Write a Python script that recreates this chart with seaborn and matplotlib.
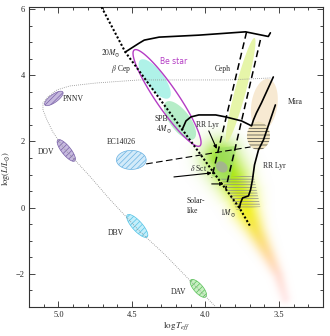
import numpy as np
import matplotlib
matplotlib.use("Agg")
import matplotlib.pyplot as plt
from matplotlib.patches import Polygon
from matplotlib.colors import to_rgb
from matplotlib.ticker import MultipleLocator, FormatStrFormatter
import seaborn as sns

# ---------------- data: (log Teff, log L/Lsun) ----------------
zams_T = [4.72, 4.545, 4.126, 3.768, 3.693]
zams_L = [6.17, 4.70, 2.17, -0.01, -0.58]

track20_T = [4.545, 4.450, 4.416, 4.315, 4.045, 3.727, 3.572, 3.558]
track20_L = [4.70, 4.97, 5.06, 5.15, 5.21, 5.31, 5.17, 5.28]

track4_T = [4.159, 4.132, 4.099, 4.045, 3.930, 3.862, 3.754, 3.686, 3.673, 3.653, 3.619, 3.585, 3.538]
track4_L = [2.347, 2.62, 2.74, 2.80, 2.80, 2.74, 2.62, 2.47, 2.65, 2.86, 3.16, 3.49, 3.947]

track1_T = [3.768, 3.761, 3.747, 3.707, 3.693, 3.680, 3.666, 3.639, 3.605, 3.524]
track1_L = [-0.01, 0.143, 0.294, 0.355, 0.536, 0.838, 1.291, 1.743, 2.045, 3.102]

wd_T = [3.558, 3.842, 4.450, 4.741, 4.923, 5.011, 5.072, 5.105, 5.105, 5.078,
        5.038, 4.970, 4.876, 4.788, 4.653, 4.450, 4.281, 3.930]
wd_L = [3.917, 3.857, 3.857, 3.766, 3.675, 3.555, 3.343, 3.162, 2.951, 2.649,
        2.287, 1.834, 1.381, 0.958, 0.264, -0.702, -1.396, -2.996]

blue_edge_T = [3.720, 3.957]
blue_edge_L = [5.306, 0.898]
red_edge_T = [3.626, 3.862]
red_edge_L = [5.064, 0.566]
hb_T = [4.403, 3.693]
hb_L = [1.321, 1.834]

# region axes (two ends of the long axis)
pnnv_ends = [(5.092, 3.102), (4.970, 3.494)]
dov_ends = [(5.004, 2.045), (4.889, 1.411)]
ec_ends = [(4.605, 1.442), (4.403, 1.442)]
dbv_ends = [(4.531, -0.219), (4.396, -0.883)]
dav_ends = [(4.099, -2.181), (3.997, -2.694)]
bcep_ends = [(4.443, 4.46), (4.247, 3.313)]
spb_ends = [(4.268, 3.19), (4.078, 2.075)]
be_ends = [(4.484, 4.762), (4.038, 1.864)]
ceph_ends = [(3.666, 5.125), (3.855, 1.985)]
mira_ends = [(3.572, 3.887), (3.626, 2.317)]
rrl_ends = [(3.639, 2.589), (3.639, 1.743)]
gdor_blob_ends = [(3.923, 1.351), (3.855, 1.109)]

dsct_box_T = [3.916, 3.788, 3.835, 3.957]
dsct_box_L = [1.804, 1.864, 0.717, 0.959]
gdor_T = [3.896, 3.673, 3.626, 3.788]
gdor_L = [0.898, 0.989, 0.023, -0.068]

solar_T = [3.896, 3.815, 3.754, 3.714, 3.653, 3.572, 3.504, 3.457]
solar_L = [1.502, 0.898, 0.385, -0.158, -0.732, -1.426, -2.030, -2.725]

labels = [r"$20M_{\odot}$", r"$\beta$ Cep", "Ceph", "Mira", "RR Lyr", "RR Lyr",
          "SPB", r"$4M_{\odot}$", "PNNV", "DOV", "EC14026", "DBV", "DAV",
          r"$\delta$ Sct", r"$1M_{\odot}$"]
label_T = [4.646, 4.572, 3.882, 3.389, 3.984, 3.531, 4.301, 4.281, 4.896, 5.085,
           4.572, 4.612, 4.186, 4.045, 3.849]
label_L = [4.672, 4.189, 4.189, 3.19, 2.498, 1.26, 2.679, 2.377, 3.283, 1.683,
           1.985, -0.762, -2.543, 1.200, -0.158]

arrow_tail = [(3.977, 2.317), (4.214, 0.928), (3.957, 0.717)]
arrow_head = [(3.923, 1.774), (3.957, 1.049), (3.876, 0.717)]

# ---------------- style ----------------
sns.set_style("ticks")
plt.rcParams.update({
    "font.family": "serif",
    "font.serif": ["Liberation Serif", "DejaVu Serif"],
    "mathtext.fontset": "stix",
    "hatch.linewidth": 0.5,
    "axes.linewidth": 0.8,
})

fig = plt.figure(figsize=(3.3, 3.36), dpi=100)
ax = fig.add_axes([29 / 330, 29 / 336, 294 / 330, 300 / 336])
ax.set_xlim(5.2, 3.2)
ax.set_ylim(-3.0, 6.06)


def ellipse_xy(ends, width_px, n=120):
    P = ax.transData.transform(np.array(ends, dtype=float))
    c = P.mean(axis=0)
    d = P[1] - P[0]
    ln = np.hypot(*d)
    u = d / ln
    v = np.array([-u[1], u[0]])
    t = np.linspace(0, 2 * np.pi, n)
    pts = c + np.outer(np.cos(t) * ln / 2, u) + np.outer(np.sin(t) * width_px / 2, v)
    return ax.transData.inverted().transform(pts)


def add_ellipse(ends, width_px, **kw):
    ax.add_patch(Polygon(ellipse_xy(ends, width_px), closed=True, **kw))


def soft_band(T, L, widths, colors, alphas, z=0.5):
    bb = ax.bbox
    nx, ny = int(round(bb.width)), int(round(bb.height))
    xs = bb.x0 + np.arange(nx) + 0.5
    ys = bb.y0 + np.arange(ny) + 0.5
    X, Y = np.meshgrid(xs, ys)
    P = ax.transData.transform(np.column_stack([T, L]))
    best_d = np.full(X.shape, np.inf)
    best_s = np.zeros(X.shape)
    for i in range(len(P) - 1):
        a, b = P[i], P[i + 1]
        ab = b - a
        t = np.clip(((X - a[0]) * ab[0] + (Y - a[1]) * ab[1]) / (ab @ ab), 0, 1)
        d = np.hypot(X - (a[0] + t * ab[0]), Y - (a[1] + t * ab[1]))
        m = d < best_d
        best_d[m] = d[m]
        best_s[m] = (i + t)[m]
    idx = np.arange(len(P))
    w = np.interp(best_s, idx, widths)
    al = np.interp(best_s, idx, alphas) * np.exp(-0.5 * (best_d / w) ** 2)
    rgb = np.array([to_rgb(c) for c in colors])
    img = np.zeros(X.shape + (4,))
    for k in range(3):
        img[..., k] = np.interp(best_s, idx, rgb[:, k])
    img[..., 3] = al
    xl, yl = ax.get_xlim(), ax.get_ylim()
    ax.imshow(img, extent=(xl[0], xl[1], yl[0], yl[1]), origin="lower",
              aspect="auto", interpolation="bilinear", zorder=z)
    ax.set_xlim(xl)
    ax.set_ylim(yl)


# soft solar-like band
soft_band(solar_T, solar_L,
          widths=[13, 12, 10.5, 9, 7, 5.5, 4.5, 4],
          colors=["#86dc00", "#a8e600", "#d6ef00", "#f2ef10", "#f8e040",
                  "#ffc870", "#ffbfa8", "#ffc8c8"],
          alphas=[0.85, 0.9, 0.9, 0.9, 0.8, 0.6, 0.45, 0.35])

# filled regions
add_ellipse(ceph_ends, 11, facecolor="#e4f4a0", edgecolor="none", alpha=0.9, zorder=1)
add_ellipse(mira_ends, 26, facecolor="#f5e2c4", edgecolor="none", alpha=0.75, zorder=1)
add_ellipse(bcep_ends, 18, facecolor="#aff2e8", edgecolor="none", zorder=1)
add_ellipse(spb_ends, 20, facecolor="#b6edc8", edgecolor="none", zorder=1)
ax.add_patch(Polygon(np.column_stack([dsct_box_T, dsct_box_L]), closed=True,
                     facecolor="#9ede66", edgecolor="none", alpha=0.7, zorder=1.2))
add_ellipse(gdor_blob_ends, 10, facecolor="#a5ab9c", edgecolor="none", alpha=0.8, zorder=1.3)
ax.add_patch(Polygon(np.column_stack([gdor_T, gdor_L]), closed=True, fill=False,
                     edgecolor="#8a8a8a", lw=0, hatch="------", zorder=1.4))
add_ellipse(rrl_ends, 23, facecolor="#f3e6bf", edgecolor="#404040", lw=0,
            hatch="-----", zorder=1.5)

# hatched compact-pulsator regions
for ends, w, fc, ec in [(pnnv_ends, 8, "#c6b9de", "#7a62a8"),
                        (dov_ends, 9, "#c6b9de", "#7a62a8"),
                        (ec_ends, 19, "#d2eaf9", "#6ab2e2"),
                        (dbv_ends, 10, "#c4eefa", "#55c4e6"),
                        (dav_ends, 9, "#c6f0c0", "#5cbf5c")]:
    add_ellipse(ends, w, facecolor=fc, edgecolor=ec, lw=0.5, hatch="//////", zorder=1.5)

# Be star outline
add_ellipse(be_ends, 22, facecolor="none", edgecolor="#b43cc4", lw=1.0, zorder=2.5)

# lines
sns.lineplot(x=wd_T, y=wd_L, sort=False, estimator=None, color="#8c8c8c",
             lw=0.6, linestyle=(0, (1, 1.5)), ax=ax, zorder=2)
sns.lineplot(x=zams_T, y=zams_L, sort=False, estimator=None, color="black",
             lw=1.5, linestyle=(0, (1, 1)), ax=ax, zorder=3)
for T, L in [(track20_T, track20_L), (track4_T, track4_L), (track1_T, track1_L)]:
    sns.lineplot(x=T, y=L, sort=False, estimator=None, color="black", lw=1.2,
                 ax=ax, zorder=3)
for T, L in [(blue_edge_T, blue_edge_L), (red_edge_T, red_edge_L)]:
    sns.lineplot(x=T, y=L, sort=False, estimator=None, color="black", lw=1.1,
                 linestyle=(0, (4.5, 2.5)), ax=ax, zorder=3)
sns.lineplot(x=hb_T, y=hb_L, sort=False, estimator=None, color="black", lw=0.8,
             linestyle=(0, (6, 3)), ax=ax, zorder=3)

for tail, head in zip(arrow_tail, arrow_head):
    ax.annotate("", xy=head, xytext=tail,
                arrowprops=dict(arrowstyle="-|>", color="black", lw=0.8,
                                mutation_scale=5, shrinkA=0, shrinkB=0), zorder=4)

for s, T, L in zip(labels, label_T, label_L):
    ax.text(T, L, s, fontsize=5.5, ha="center", va="center", zorder=5)
ax.text(4.126, 0.053, "Solar-\nlike", fontsize=5.5, ha="left", va="center",
        linespacing=1.3, zorder=5)
ax.text(4.214, 4.40, "Be star", fontsize=5.5, ha="center", va="center",
        color="#b43cc4", family="DejaVu Sans", zorder=5)

# axes
ax.set_xlim(5.2, 3.2)
ax.set_ylim(-3.0, 6.06)
ax.xaxis.set_major_locator(MultipleLocator(0.5))
ax.xaxis.set_minor_locator(MultipleLocator(0.1))
ax.xaxis.set_major_formatter(FormatStrFormatter("%.1f"))
ax.yaxis.set_major_locator(MultipleLocator(2))
ax.yaxis.set_minor_locator(MultipleLocator(0.5))
ax.tick_params(which="both", direction="in", top=True, right=True, width=0.6,
               labelsize=6, pad=3)
ax.tick_params(which="major", length=4)
ax.tick_params(which="minor", length=2)
for sp in ax.spines.values():
    sp.set_visible(True)
    sp.set_linewidth(0.8)
    sp.set_color("#333333")
ax.set_xlabel(r"$\log T_{eff}$", fontsize=6.5, labelpad=1)
ax.set_ylabel(r"$\log(L/L_{\odot})$", fontsize=6)
ax.yaxis.set_label_coords(-0.058, 0.46)

fig.savefig("out.png", dpi=100)
